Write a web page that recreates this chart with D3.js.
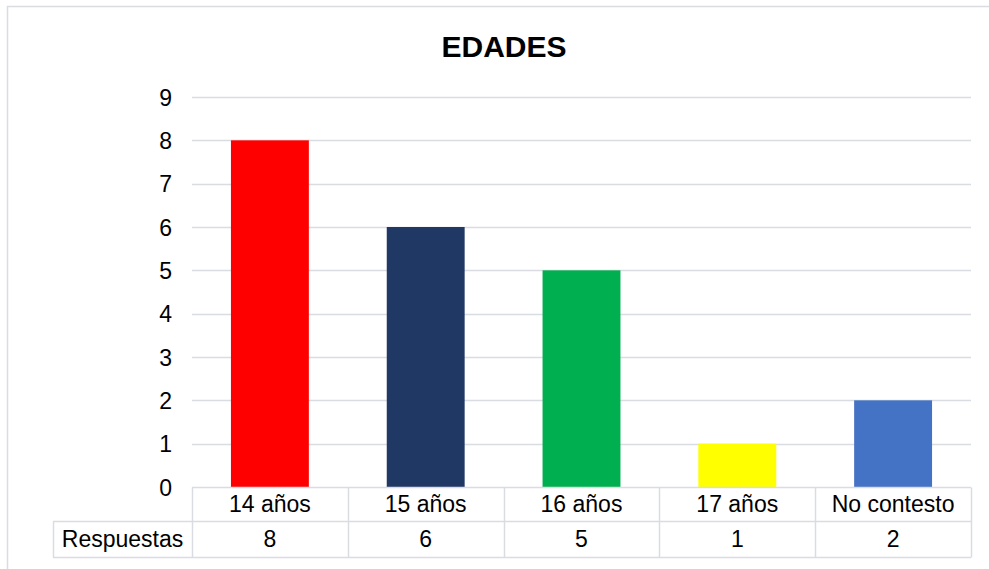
<!DOCTYPE html>
<html>
<head>
<meta charset="utf-8">
<script src="https://cdn.jsdelivr.net/npm/d3@7"></script>
<style>
  body { margin: 0; background: #fff; }
  svg text { font-family: "Liberation Sans", Arial, sans-serif; fill: #000; }
</style>
</head>
<body>
<div id="chart"></div>
<script>
// data
const categories = ["14 años", "15 años", "16 años", "17 años", "No contesto"];
const respuestas = [8, 6, 5, 1, 2];
const barColors = ["#FF0000", "#1F3864", "#00B050", "#FFFF00", "#4472C4"];
const yTicks = [0, 1, 2, 3, 4, 5, 6, 7, 8, 9];
const seriesName = "Respuestas";
const chartTitle = "EDADES";

const svgWidth = 989;
const svgHeight = 569;
const gridColor = "#D9DCE1";

const svg = d3
  .select("#chart")
  .append("svg")
  .attr("width", svgWidth)
  .attr("height", svgHeight);

// outer chart frame
svg
  .append("rect")
  .attr("x", 7.5)
  .attr("y", 6.5)
  .attr("width", 1000)
  .attr("height", 600)
  .attr("fill", "#fff")
  .attr("stroke", gridColor)
  .attr("stroke-width", 1.5);

// plot area
const plotLeft = 192, plotRight = 971, plotTop = 97, plotBottom = 487;
const rowH1 = 34, rowH2 = 36;
const tableLeft = 53;

const x = d3.scaleBand().domain(categories).range([plotLeft, plotRight]).padding(0);
const y = d3.scaleLinear().domain([0, 9]).range([plotBottom, plotTop]);

// title
svg
  .append("text")
  .attr("x", 504)
  .attr("y", 57)
  .attr("text-anchor", "middle")
  .style("font-size", "30px")
  .style("font-weight", "bold")
  .text(chartTitle);

// gridlines
svg
  .append("g")
  .selectAll("line")
  .data(yTicks.filter((d) => d > 0))
  .enter()
  .append("line")
  .attr("x1", plotLeft)
  .attr("x2", plotRight)
  .attr("y1", (d) => Math.round(y(d)) + 0.5)
  .attr("y2", (d) => Math.round(y(d)) + 0.5)
  .attr("stroke", gridColor)
  .attr("stroke-width", 1.5);

// y axis labels
const yAxisG = svg
  .append("g")
  .attr("transform", `translate(${plotLeft - 20},0)`)
  .call(d3.axisLeft(y).tickValues(yTicks).tickSize(0).tickPadding(0));
yAxisG.select(".domain").remove();
yAxisG
  .selectAll("text")
  .style("font-size", "23px")
  .style("font-family", "'Liberation Sans', Arial, sans-serif")
  .attr("dy", "0.35em")
  .attr("fill", "#000");

// bars
const barW = x.bandwidth() * 0.5;
svg
  .append("g")
  .selectAll("rect")
  .data(respuestas)
  .enter()
  .append("rect")
  .attr("x", (d, i) => x(categories[i]) + (x.bandwidth() - barW) / 2)
  .attr("y", (d) => y(d))
  .attr("width", barW)
  .attr("height", (d) => y(0) - y(d))
  .attr("fill", (d, i) => barColors[i]);

// data table
const tableG = svg.append("g").attr("class", "data-table");
const lineStyle = (sel) =>
  sel.attr("stroke", gridColor).attr("stroke-width", 1.5).attr("fill", "none");

const r1 = plotBottom + 0.5, r2 = plotBottom + rowH1 + 0.5, r3 = plotBottom + rowH1 + rowH2 + 0.5;
tableG.append("line").attr("x1", plotLeft).attr("x2", plotRight).attr("y1", r1).attr("y2", r1).call(lineStyle);
tableG.append("line").attr("x1", tableLeft).attr("x2", plotRight).attr("y1", r2).attr("y2", r2).call(lineStyle);
tableG.append("line").attr("x1", tableLeft).attr("x2", plotRight).attr("y1", r3).attr("y2", r3).call(lineStyle);
tableG.append("line").attr("x1", tableLeft + 0.5).attr("x2", tableLeft + 0.5).attr("y1", r2).attr("y2", r3).call(lineStyle);

const colEdges = categories.map((c) => x(c)).concat([plotRight]);
tableG
  .selectAll(".col-line")
  .data(colEdges)
  .enter()
  .append("line")
  .attr("class", "col-line")
  .attr("x1", (d) => Math.round(d) + 0.5)
  .attr("x2", (d) => Math.round(d) + 0.5)
  .attr("y1", r1)
  .attr("y2", r3)
  .call(lineStyle);

// category labels
tableG
  .selectAll(".cat-label")
  .data(categories)
  .enter()
  .append("text")
  .attr("class", "cat-label")
  .attr("x", (d) => x(d) + x.bandwidth() / 2)
  .attr("y", plotBottom + 25)
  .attr("text-anchor", "middle")
  .style("font-size", "23px")
  .text((d) => d);

// values row
tableG
  .append("text")
  .attr("x", (tableLeft + plotLeft) / 2)
  .attr("y", plotBottom + rowH1 + 26)
  .attr("text-anchor", "middle")
  .style("font-size", "23px")
  .text(seriesName);

tableG
  .selectAll(".val-label")
  .data(respuestas)
  .enter()
  .append("text")
  .attr("class", "val-label")
  .attr("x", (d, i) => x(categories[i]) + x.bandwidth() / 2)
  .attr("y", plotBottom + rowH1 + 26)
  .attr("text-anchor", "middle")
  .style("font-size", "23px")
  .text((d) => d);
</script>
</body>
</html>
